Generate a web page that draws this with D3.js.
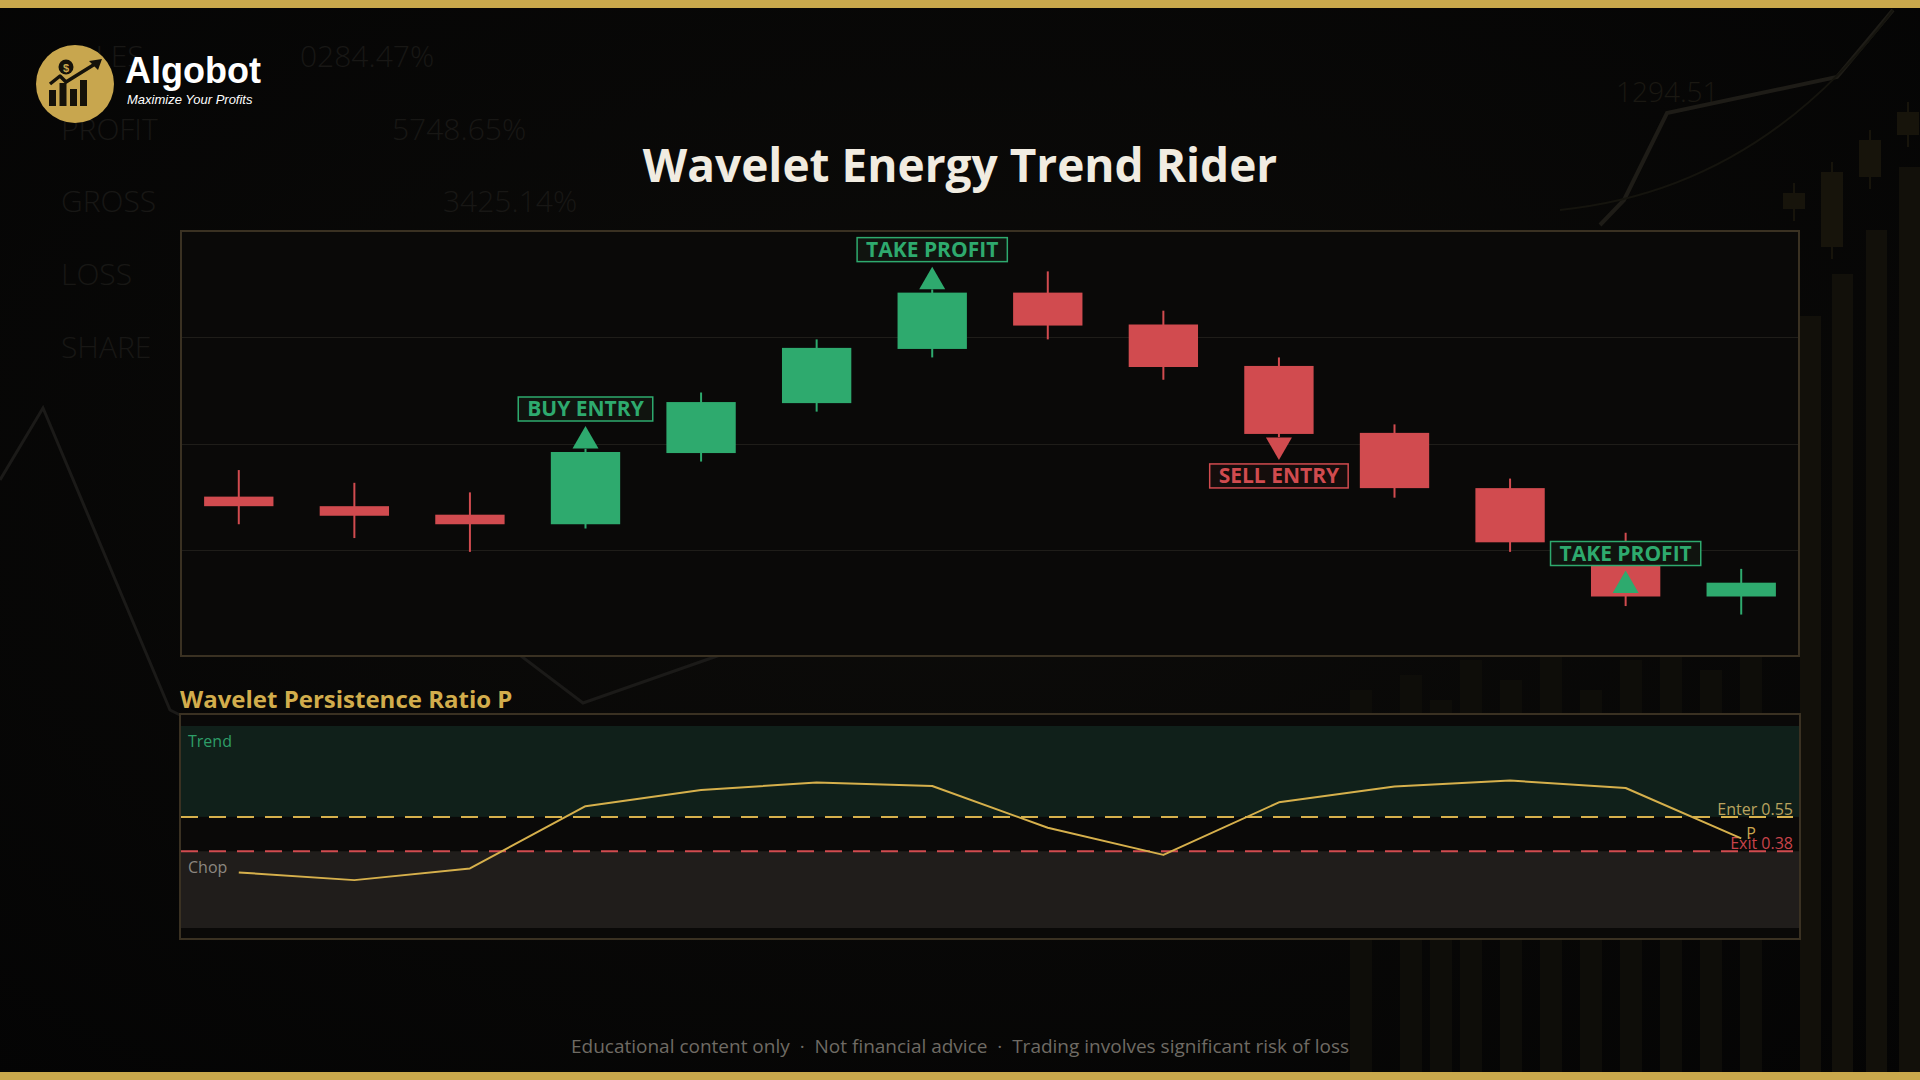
<!DOCTYPE html>
<html><head><meta charset="utf-8">
<script src="https://cdn.jsdelivr.net/npm/d3@7"></script>
<style>html,body{margin:0;padding:0;background:#070706;overflow:hidden}svg{display:block}</style>
</head><body>
<svg id="c" width="1920" height="1080"></svg>
<script>
// ---------- data ----------
const categories = ['1','2','3','4','5','6','7','8','9','10','11','12','13','14'];
const opens  = [115.0,114.1,113.3,112.4,119.1,123.8,128.9,134.2,131.2,127.3,121.0,115.8,110.7,105.6];
const highs  = [117.5,116.3,115.4,119.5,124.8,129.8,134.5,136.2,132.5,128.1,121.8,116.7,111.6,108.2];
const lows   = [112.4,111.1,109.8,112.0,118.3,123.0,128.1,129.8,126.0,120.6,114.9,109.8,104.7,103.9];
const closes = [114.1,113.2,112.4,119.2,123.9,129.0,134.2,131.1,127.2,120.9,115.8,110.7,105.6,106.9];
const persistence = [0.275,0.237,0.295,0.603,0.683,0.720,0.703,0.496,0.362,0.622,0.700,0.730,0.693,0.444];
const priceTicks = [110,120,130];
const signalIdx  = [3,6,9,12];
const signalText = ['BUY ENTRY','TAKE PROFIT','SELL ENTRY','TAKE PROFIT'];
const signalDir  = ['up','up','down','up'];
const thresholdValues = [0.55,0.38];
const thresholdLabels = ['Enter 0.55','Exit 0.38'];
const bgStatLabels = ['SALES','PROFIT','GROSS','LOSS','SHARE'];
const bgStatValues = ['0284.47%','5748.65%','3425.14%','',''];

const GREEN = '#2eaa6e', RED = '#d14b4f', GOLD = '#d6b04c';
const FONT = "'Open Sans', 'Noto Sans', sans-serif";

const svg = d3.select('#c');

// ---------- background ----------
const defs = svg.append('defs');
const rg = defs.append('radialGradient').attr('id','vig').attr('cx','50%').attr('cy','45%').attr('r','75%');
rg.append('stop').attr('offset','0%').attr('stop-color','#0d0c0a');
rg.append('stop').attr('offset','100%').attr('stop-color','#040404');
svg.append('rect').attr('width',1920).attr('height',1080).attr('fill','url(#vig)');

const bg = svg.append('g');
const statY = [67,140,212,285,358];
bg.selectAll('text.sl').data(bgStatLabels).join('text')
  .attr('x',61).attr('y',(d,i)=>statY[i]).text(d=>d)
  .attr('font-family',FONT).attr('font-weight',300).attr('font-size',30).attr('fill','#181715');
const valX = [300,392,443,0,0];
bg.selectAll('text.sv').data(bgStatValues).join('text')
  .attr('x',(d,i)=>valX[i]).attr('y',(d,i)=>statY[i]).text(d=>d)
  .attr('font-family',FONT).attr('font-weight',300).attr('font-size',30).attr('fill','#181715');
bg.append('text').attr('x',1616).attr('y',102).text('1294.51')
  .attr('font-family',FONT).attr('font-weight',300).attr('font-size',28).attr('fill','#1a1812');
bg.append('path').attr('d','M0,480 L43,408 L170,710 L190,720').attr('fill','none').attr('stroke','#1b1a18').attr('stroke-width',3);
bg.append('path').attr('d','M500,640 L583,703 L720,655 L760,640').attr('fill','none').attr('stroke','#1b1a18').attr('stroke-width',3);
bg.append('path').attr('d','M1600,225 L1624,200 L1667,113 L1837,77 L1893,10').attr('fill','none').attr('stroke','#1e1c17').attr('stroke-width',4);
bg.append('path').attr('d','M1560,210 Q1760,190 1893,10').attr('fill','none').attr('stroke','#15140e').attr('stroke-width',2);
const rb = [[1800,316],[1832,274],[1866,230],[1899,167]];
bg.selectAll('rect.rb').data(rb).join('rect').attr('x',d=>d[0]).attr('y',d=>d[1]).attr('width',21).attr('height',d=>1072-d[1]).attr('fill','#12100a');
const rc = [[1783,193,16],[1821,172,75],[1859,140,37],[1897,112,23]];
bg.selectAll('line.rc').data(rc).join('line').attr('x1',d=>d[0]+11).attr('x2',d=>d[0]+11).attr('y1',d=>d[1]-10).attr('y2',d=>d[1]+d[2]+12).attr('stroke','#17140b').attr('stroke-width',2);
bg.selectAll('rect.rc').data(rc).join('rect').attr('x',d=>d[0]).attr('y',d=>d[1]).attr('width',22).attr('height',d=>d[2]).attr('fill','#17140b');
const bb = [[1350,690],[1400,675],[1430,700],[1460,660],[1500,680],[1540,650],[1580,690],[1620,660],[1660,640],[1700,670],[1740,655]];
bg.selectAll('rect.bb').data(bb).join('rect').attr('x',d=>d[0]).attr('y',d=>d[1]).attr('width',22).attr('height',d=>1072-d[1]).attr('fill','#0e0d09');

svg.append('rect').attr('x',0).attr('y',0).attr('width',1920).attr('height',8).attr('fill','#c9a84c');
svg.append('rect').attr('x',0).attr('y',1072).attr('width',1920).attr('height',8).attr('fill','#c9a84c');

// ---------- logo ----------
const logo = svg.append('g');
logo.append('circle').attr('cx',75).attr('cy',84).attr('r',39).attr('fill','#c8a64e');
const lb = [[49,90],[59.5,83],[70,89],[80,80]];
logo.selectAll('rect').data(lb).join('rect').attr('x',d=>d[0]).attr('y',d=>d[1]).attr('width',7).attr('height',d=>106-d[1]).attr('fill','#15120a');
logo.append('path').attr('d','M50,84 L60,76 L66,82 L74,77 L95,64').attr('fill','none').attr('stroke','#15120a').attr('stroke-width',3.5).attr('stroke-linejoin','round');
logo.append('path').attr('d','M102,59 L89,61 L98,70 Z').attr('fill','#15120a');
logo.append('circle').attr('cx',66).attr('cy',67).attr('r',7.5).attr('fill','#15120a');
logo.append('text').attr('x',66).attr('y',71.5).attr('text-anchor','middle').text('$')
  .attr('font-family','Liberation Sans').attr('font-weight','bold').attr('font-size',11).attr('fill','#c8a64e');
logo.append('text').attr('x',125).attr('y',83).text('Algobot')
  .attr('font-family',"'Liberation Sans', Arial, sans-serif").attr('font-weight','bold').attr('font-size',36).attr('fill','#ffffff');
logo.append('text').attr('x',127).attr('y',104).text('Maximize Your Profits')
  .attr('font-family',"'Liberation Sans', Arial, sans-serif").attr('font-style','italic').attr('font-size',13).attr('fill','#ffffff');

// ---------- title ----------
svg.append('text').attr('x',960).attr('y',182).attr('text-anchor','middle').text('Wavelet Energy Trend Rider')
  .attr('font-family',FONT).attr('font-weight',700).attr('font-size',46).attr('fill','#f1ece1');

// ---------- main candle panel ----------
const x = d3.scaleBand().domain(categories).range([181,1799]).paddingInner(0.4).paddingOuter(0.2);
const bw = x.bandwidth();
const cx = i => x(categories[i]) + bw/2;
const y = d3.scaleLinear().domain([100,140]).range([656,231]);

svg.append('rect').attr('x',181).attr('y',231).attr('width',1618).attr('height',425)
  .attr('fill','#0a0908').attr('stroke','#3a3122').attr('stroke-width',2);
svg.append('g').selectAll('line').data(priceTicks).join('line')
  .attr('x1',182).attr('x2',1798).attr('y1',d=>Math.round(y(d))+0.5).attr('y2',d=>Math.round(y(d))+0.5)
  .attr('stroke','#1f1d19').attr('stroke-width',1);

const candles = svg.append('g');
categories.forEach((c,i)=>{
  const col = closes[i] >= opens[i] ? GREEN : RED;
  candles.append('line').attr('x1',cx(i)).attr('x2',cx(i)).attr('y1',y(highs[i])).attr('y2',y(lows[i]))
    .attr('stroke',col).attr('stroke-width',2);
  const top = y(Math.max(opens[i],closes[i])), bot = y(Math.min(opens[i],closes[i]));
  candles.append('rect').attr('x',x(c)).attr('y',top).attr('width',bw).attr('height',Math.max(1,bot-top)).attr('fill',col);
});

const sig = svg.append('g');
signalIdx.forEach((idx,k)=>{
  const up = signalDir[k]==='up';
  const col = signalText[k].startsWith('SELL') ? RED : GREEN;
  const fill = signalText[k].startsWith('SELL') ? '#150d0c' : '#10140f';
  const X = cx(idx), yc = y(closes[idx]);
  const pts = up ? [[X-13,yc-3.5],[X+13,yc-3.5],[X,yc-26]] : [[X-13,yc+3.5],[X+13,yc+3.5],[X,yc+26]];
  sig.append('path').attr('d','M'+pts.map(p=>p.join(',')).join('L')+'Z').attr('fill',col);
  const boxTop = up ? yc-55 : yc+30;
  const g = sig.append('g');
  const r = g.append('rect');
  const t = g.append('text').attr('x',X).attr('y',boxTop+19).attr('text-anchor','middle').text(signalText[k])
    .attr('font-family',FONT).attr('font-weight',700).attr('font-size',21).attr('fill',col);
  const w = t.node().getComputedTextLength() + 18;
  r.attr('x',X-w/2).attr('y',boxTop).attr('width',w).attr('height',24).attr('fill',fill).attr('stroke',col).attr('stroke-width',1.5);
});

// ---------- persistence panel ----------
svg.append('text').attr('x',180).attr('y',708).text('Wavelet Persistence Ratio P')
  .attr('font-family',FONT).attr('font-weight',700).attr('font-size',24).attr('fill','#d2ad4c');

const py = d3.scaleLinear().domain([0,1]).range([928,726]);
svg.append('rect').attr('x',180).attr('y',714).attr('width',1620).attr('height',225)
  .attr('fill','#0a0908').attr('stroke','#3a3122').attr('stroke-width',2);
svg.append('rect').attr('x',181).attr('y',py(1)).attr('width',1618).attr('height',py(thresholdValues[0])-py(1)).attr('fill','#10201a');
svg.append('rect').attr('x',181).attr('y',py(thresholdValues[1])).attr('width',1618).attr('height',py(0)-py(thresholdValues[1])).attr('fill','#201d1b');

const thrCol = [GOLD, RED];
const thrTxt = ['#b9a35e','#c8434a'];
thresholdValues.forEach((v,i)=>{
  svg.append('line').attr('x1',181).attr('x2',1793).attr('y1',py(v)).attr('y2',py(v))
    .attr('stroke',thrCol[i]).attr('stroke-width',2).attr('stroke-dasharray','17,11');
  svg.append('text').attr('x',1793).attr('y',py(v)-2).attr('text-anchor','end').text(thresholdLabels[i])
    .attr('font-family',FONT).attr('font-size',16).attr('fill',thrTxt[i]);
});
svg.append('text').attr('x',188).attr('y',py(1)+21).text('Trend').attr('font-family',FONT).attr('font-size',16).attr('fill','#2e9e68');
svg.append('text').attr('x',188).attr('y',py(thresholdValues[1])+22).text('Chop').attr('font-family',FONT).attr('font-size',16).attr('fill','#8c8780');

const line = d3.line().x((d,i)=>cx(i)).y(d=>py(d));
svg.append('path').datum(persistence).attr('d',line).attr('fill','none').attr('stroke',GOLD).attr('stroke-width',2).attr('stroke-linejoin','round');
const last = persistence.length-1;
svg.append('text').attr('x',cx(last)+5).attr('y',py(persistence[last])+1).text('P')
  .attr('font-family',FONT).attr('font-size',16).attr('fill','#c9a64e');

// ---------- footer ----------
svg.append('text').attr('x',960).attr('y',1053).attr('text-anchor','middle')
  .text('Educational content only  ·  Not financial advice  ·  Trading involves significant risk of loss')
  .attr('font-family',FONT).attr('font-size',19).attr('fill','#6f6b64').style('white-space','pre');
</script>
</body></html>
